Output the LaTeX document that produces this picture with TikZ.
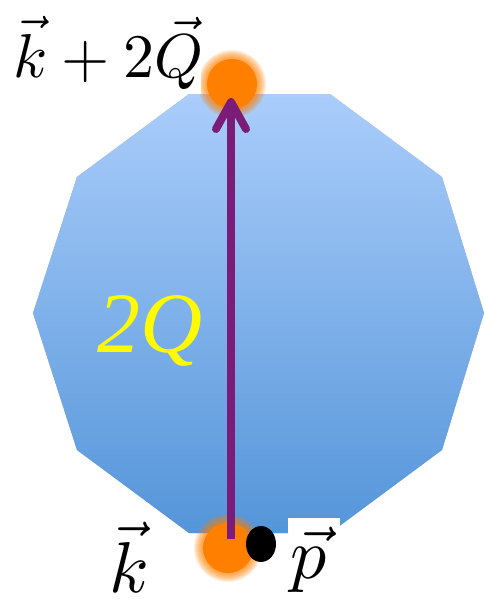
\documentclass[tikz,border=0pt]{standalone}
\usepackage{fontspec}
\newfontfamily\timesfont{Liberation Serif}
\usetikzlibrary{calc}
\definecolor{octtop}{RGB}{170,205,251}
\definecolor{octbot}{RGB}{84,149,217}
\definecolor{dotorange}{RGB}{255,128,0}
\definecolor{arrowpurple}{RGB}{122,28,120}
\definecolor{labyellow}{RGB}{255,250,0}
\tikzset{
  arrowline/.style={draw=arrowpurple, line width=8pt},
  mathlab/.style={anchor=base west, inner sep=0pt},
}
\begin{document}
\begin{tikzpicture}[x=1pt,y=-1pt]
\useasboundingbox (0,0) rectangle (485,606);
% decagon corners
\coordinate (v1) at (189,94);
\coordinate (v2) at (330,94);
\coordinate (v3) at (442,177);
\coordinate (v4) at (484,313);
\coordinate (v5) at (442,450);
\coordinate (v6) at (330,533);
\coordinate (v7) at (189,533);
\coordinate (v8) at (77,450);
\coordinate (v9) at (33,313);
\coordinate (v10) at (77,177);
% soft shadow
\foreach \s/\o in {5/0.06,4/0.08,3/0.1,2/0.1}{
  \fill[black,opacity=\o,shift={(\s,\s)}] (v1)--(v2)--(v3)--(v4)--(v5)--(v6)--(v7)--(v8)--(v9)--(v10)--cycle;
}
\shade[top color=octtop, bottom color=octbot] (v1)--(v2)--(v3)--(v4)--(v5)--(v6)--(v7)--(v8)--(v9)--(v10)--cycle;
% orange dots
\coordinate (topdot) at (232,84);
\coordinate (botdot) at (228,548);
\foreach \c in {topdot,botdot}{
  \foreach \r in {34,33,...,25}{
    \fill[dotorange,opacity=0.12] (\c) circle (\r pt);
  }
  \fill[dotorange] (\c) circle (25pt);
}
% arrow
\coordinate (tail) at (231,539);
\coordinate (tip) at (231,102);
\draw[arrowline] (tail) -- (tip);
\draw[arrowline, line cap=round, line join=round] ($(tip)+(-15,27)$) -- (tip) -- ($(tip)+(15,27)$);
% black dot
\fill[black] (261,544) ellipse (15pt and 18pt);
% labels
\fill[white] (0,0) rectangle (201,94);
\node[mathlab, scale=6.2] (kq) at (12,77) {$\vec k+2\vec Q$};
\node[mathlab, scale=7.2] (k) at (108,592) {$\vec k$};
\fill[white] (288,518) rectangle (340,606);
\node[mathlab, scale=7.2] (p) at (289,578) {$\vec p$};
\node[mathlab, text=labyellow, font=\timesfont\itshape\fontsize{86}{90}\selectfont] (twoq) at (97,352) {2Q};
\end{tikzpicture}
\end{document}
